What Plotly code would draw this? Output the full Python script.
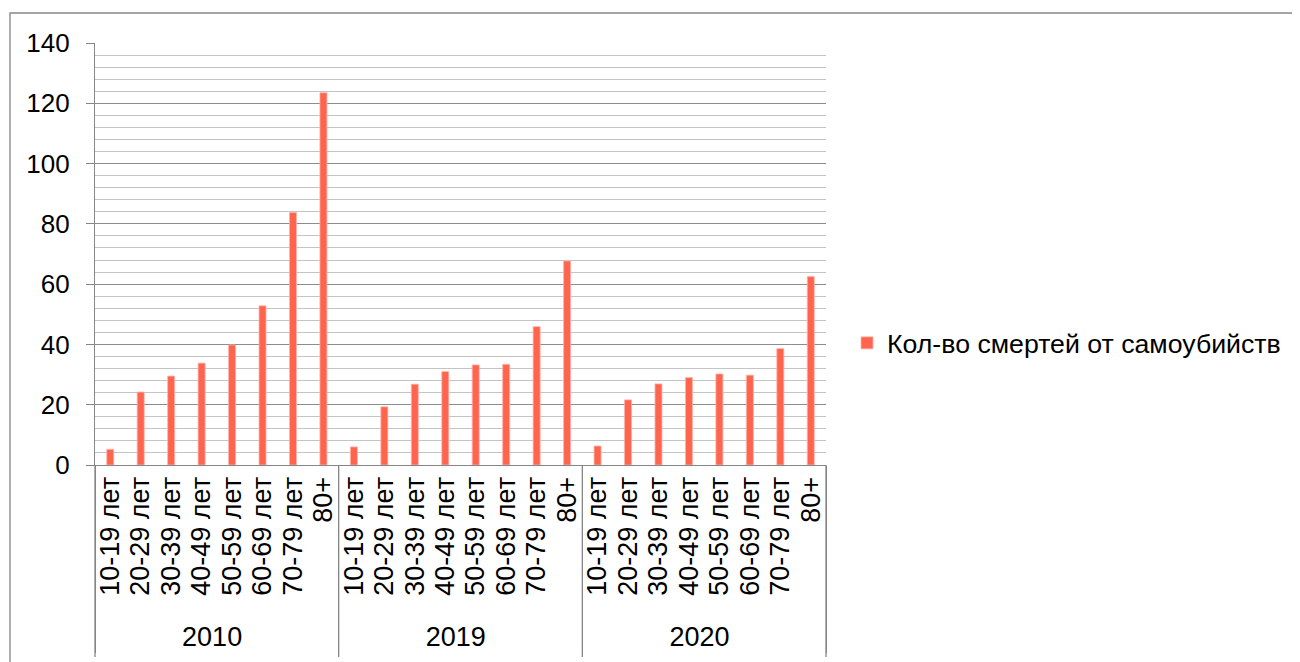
import plotly.graph_objects as go

years = ["2010", "2019", "2020"]
ages = ["10-19 лет", "20-29 лет", "30-39 лет", "40-49 лет", "50-59 лет", "60-69 лет", "70-79 лет", "80+"]
values_2010 = [5.2, 24.2, 29.5, 33.8, 39.8, 52.8, 83.8, 123.5]
values_2019 = [6.0, 19.3, 26.8, 31.0, 33.2, 33.4, 45.9, 67.7]
values_2020 = [6.3, 21.6, 26.9, 29.0, 30.2, 29.8, 38.6, 62.5]
series_name = "Кол-во смертей от самоубийств"

x_outer = []
x_inner = []
y_vals = []
for yr, vals in zip(years, [values_2010, values_2019, values_2020]):
    for a, v in zip(ages, vals):
        x_outer.append(yr)
        x_inner.append(a)
        y_vals.append(v)

# page offset (body margin) compensation
OFF = 8
W, H = 1300, 662
L, T = 95 - OFF, 43 - OFF
pw, ph = 731, 422
R = W - L - pw
B = H - T - ph
base = 465  # plot bottom in reference pixels

def py(yref_px):
    return (base - yref_px) / ph

def px(xref_px):
    return (xref_px - 95) / pw

fig = go.Figure()
fig.add_trace(go.Bar(
    x=[x_outer, x_inner], y=y_vals, name=series_name,
    marker=dict(color="#FF644E", line=dict(color="#FFB3A8", width=0.8)),
    showlegend=True,
))

fam = "Liberation Sans, Arial, sans-serif"
font = dict(family=fam, size=26, color="#000000")
xfont = dict(family=fam, size=27, color="#000000")
yfont = dict(family=fam, size=26, color="#000000")
lfont = dict(family=fam, size=26.7, color="#000000")
gray = "#868686"

fig.update_layout(
    width=W, height=H,
    margin=dict(l=L, r=R, t=T, b=B, autoexpand=False),
    paper_bgcolor="white", plot_bgcolor="white",
    font=font,
    bargap=0.77,
    showlegend=True,
    legend=dict(x=px(847), y=py(343), xanchor="left", yanchor="middle",
                font=lfont, itemwidth=30, bgcolor="rgba(0,0,0,0)"),
    xaxis=dict(
        type="multicategory", tickangle=-90, showline=True, linecolor=gray, linewidth=1.3,
        tickmode="linear", tick0=0, dtick=1,
        showgrid=False, ticks="", showdividers=True, dividercolor=gray, dividerwidth=1.3,
        tickfont=xfont,
    ),
    yaxis=dict(
        range=[0, 140], dtick=20, showline=True, linecolor=gray, linewidth=1.3,
        ticks="outside", ticklen=8, tickcolor=gray, tickwidth=1.3,
        showgrid=True, gridcolor="#8C8C8C", gridwidth=1.3,
        minor=dict(dtick=4, showgrid=True, gridcolor="#C4C4C4", gridwidth=1.3),
        zeroline=False, tickfont=yfont, ticklabelstandoff=11,
    ),
)

# outer chart frame
fig.add_shape(type="rect", xref="paper", yref="paper",
              x0=px(10), x1=px(1340), y0=py(720), y1=py(13),
              line=dict(color=gray, width=1.3), fillcolor="rgba(0,0,0,0)", layer="below")
# extend group dividers downward
for xb in [0, 1 / 3, 2 / 3, 1]:
    fig.add_shape(type="line", xref="paper", yref="paper",
                  x0=xb, x1=xb, y0=0, y1=py(657),
                  line=dict(color=gray, width=1.3))

fig.write_html("out.html")
